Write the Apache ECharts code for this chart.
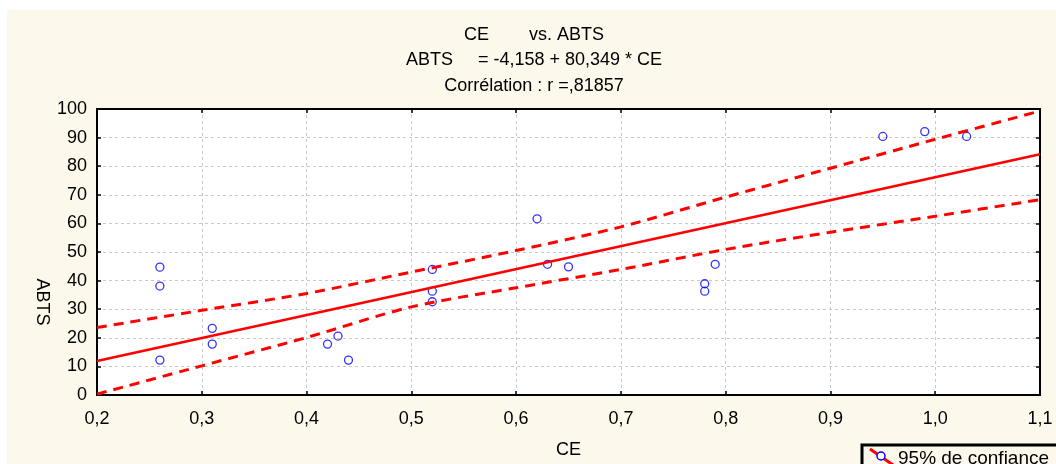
<!DOCTYPE html>
<html>
<head>
    <meta http-equiv="Content-Type" content="text/html; charset=utf-8" />
    <title>CE vs. ABTS</title>
    <style type="text/css">
        * {
            margin: 0;
            padding: 0;
        }

        html,
        body {
            width: 100%;
            height: 100%;
            background: #fff;
            overflow: hidden;
        }

        #bg {
            position: absolute;
            left: 7px;
            top: 10px;
            right: 0;
            bottom: 0;
            background: #fdf8ec;
        }

        #main {
            position: absolute;
            left: 0;
            top: 0;
            width: 1056px;
            height: 464px;
        }
    </style>
</head>

<body>
    <div id="bg"></div>
    <div id="main"></div>
    <script type="text/javascript" src="https://cdn.jsdelivr.net/npm/echarts@6/dist/echarts.min.js"></script>
    <script type="text/javascript">
        const ceValues = [0.26, 0.26, 0.26, 0.31, 0.31, 0.42, 0.43, 0.44, 0.52, 0.52, 0.52, 0.62, 0.63, 0.65, 0.78, 0.78, 0.79, 0.95, 0.99, 1.03];
        const abtsValues = [44.7, 38.1, 12.2, 23.3, 17.8, 17.8, 20.6, 12.2, 43.9, 36.3, 32.6, 61.6, 45.7, 44.8, 38.9, 36.3, 45.7, 90.4, 92.1, 90.4];

        // fitted line ends
        const regX = [0.2, 1.1];
        const regY = [11.9, 84.2];

        // 95% band, read at each x tick
        const bandX = [0.2, 0.3, 0.4, 0.5, 0.6, 0.7, 0.8, 0.9, 1.0, 1.1];
        const bandUpper = [23.6, 29.6, 35.5, 43.0, 50.5, 58.8, 69.2, 79.3, 89.4, 99.3];
        const bandLower = [0.3, 10.2, 20.1, 30.8, 37.5, 43.9, 50.9, 56.9, 62.5, 68.3];

        const titleLines = ['CE        vs. ABTS', 'ABTS     = -4,158 + 80,349 * CE', 'Corrélation : r =,81857'];
        const legendLabel = '95% de confiance';

        const FONT = "'Liberation Sans', Arial, sans-serif";
        const RED = '#ff0000';

        const zip = (xs, ys) => xs.map((x, i) => [x, ys[i]]);

        const myChart = echarts.init(document.getElementById('main'));

        const frameLine = { show: true, onZero: false, lineStyle: { color: '#000', width: 2 } };
        const frameTick = { show: true, inside: true, length: 4, lineStyle: { color: '#000', width: 1.5 } };
        const gridLine = { show: true, lineStyle: { color: '#c8c8c8', type: [3, 3], width: 1 } };

        const xBase = { type: 'value', min: 0.2, max: 1.1, interval: 0.1, axisLine: frameLine, axisTick: frameTick };
        const yBase = { type: 'value', min: 0, max: 100, interval: 10, axisLine: frameLine, axisTick: frameTick };

        myChart.setOption({
            backgroundColor: 'transparent',
            animation: false,
            title: {
                text: titleLines.join('\n'),
                left: 534,
                top: 22,
                padding: 0,
                textAlign: 'center',
                textStyle: { fontFamily: FONT, fontSize: 18, fontWeight: 'normal', color: '#000', lineHeight: 25.5 }
            },
            grid: {
                left: 97, right: 16, top: 109, bottom: 68,
                show: true, backgroundColor: '#fff', borderWidth: 0
            },
            xAxis: [
                Object.assign({}, xBase, {
                    position: 'bottom',
                    name: 'CE', nameLocation: 'middle', nameGap: 46,
                    nameTextStyle: { fontFamily: FONT, fontSize: 18, color: '#000' },
                    axisLabel: {
                        margin: 15, fontFamily: FONT, fontSize: 18, color: '#000',
                        formatter: v => v.toFixed(1).replace('.', ',')
                    },
                    splitLine: gridLine
                }),
                Object.assign({}, xBase, {
                    position: 'top',
                    axisLabel: { show: false },
                    splitLine: { show: false }
                })
            ],
            yAxis: [
                Object.assign({}, yBase, {
                    position: 'left',
                    axisLabel: { margin: 10, fontFamily: FONT, fontSize: 18, color: '#000' },
                    splitLine: gridLine
                }),
                Object.assign({}, yBase, {
                    position: 'right',
                    axisLabel: { show: false },
                    splitLine: { show: false }
                })
            ],
            graphic: [
                {
                    type: 'text', x: 42, y: 302, rotation: -Math.PI / 2,
                    style: { text: 'ABTS', font: '18px ' + FONT, fill: '#000', align: 'center', verticalAlign: 'middle' }
                },
                {
                    type: 'group', children: [
                        { type: 'rect', shape: { x: 862, y: 445, width: 230, height: 40 }, style: { fill: '#fdf8ec', stroke: '#000', lineWidth: 3 } },
                        { type: 'line', shape: { x1: 870, y1: 449, x2: 896, y2: 467 }, style: { stroke: RED, lineWidth: 3 } },
                        { type: 'circle', shape: { cx: 881, cy: 456, r: 4 }, style: { fill: '#fff', stroke: '#0000ff', lineWidth: 1.5 } },
                        { type: 'text', x: 898, y: 449, style: { text: legendLabel, font: '19px ' + FONT, fill: '#000', verticalAlign: 'top' } }
                    ]
                }
            ],
            series: [
                {
                    type: 'scatter',
                    data: zip(ceValues, abtsValues),
                    symbol: 'circle',
                    symbolSize: 8,
                    itemStyle: { color: 'rgba(0,0,0,0)', borderColor: '#0000ff', borderWidth: 1.3 },
                    z: 2
                },
                {
                    type: 'line',
                    data: zip(regX, regY),
                    showSymbol: false,
                    lineStyle: { color: RED, width: 2.5 },
                    z: 3
                },
                {
                    type: 'line',
                    data: zip(bandX, bandUpper),
                    smooth: 0.3,
                    showSymbol: false,
                    lineStyle: { color: RED, width: 3, type: [10, 7] },
                    z: 3
                },
                {
                    type: 'line',
                    data: zip(bandX, bandLower),
                    smooth: 0.3,
                    showSymbol: false,
                    lineStyle: { color: RED, width: 3, type: [10, 7] },
                    z: 3
                }
            ]
        });
    </script>
</body>

</html>
